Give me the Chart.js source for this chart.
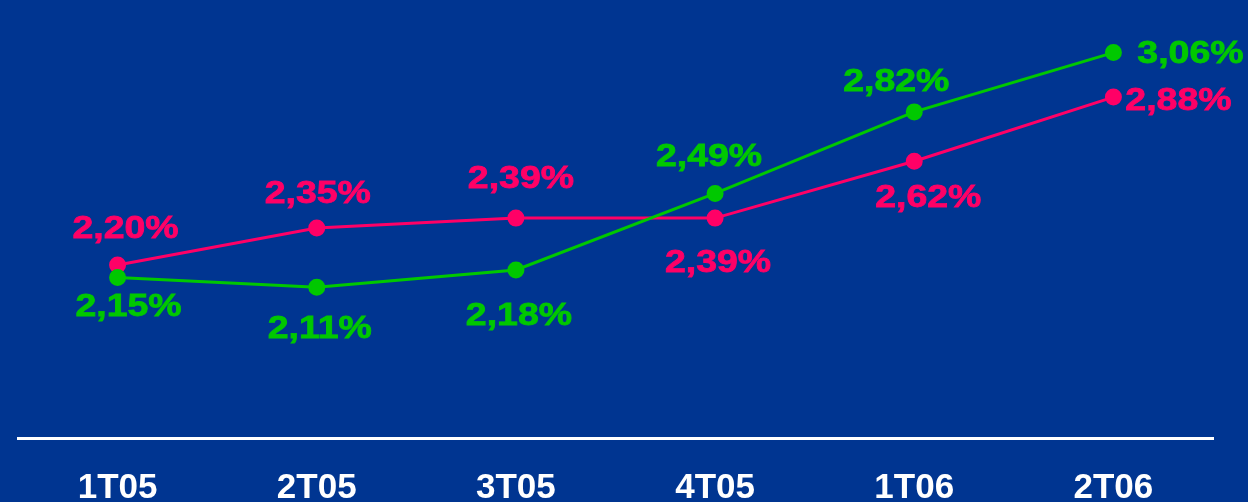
<!DOCTYPE html>
<html>
<head>
<meta charset="utf-8">
<script src="https://cdn.jsdelivr.net/npm/chart.js@4"></script>
<style>
  html, body { margin: 0; padding: 0; background: #003591; }
  #wrap { width: 1248px; height: 502px; }
</style>
</head>
<body>
<div id="wrap"><canvas id="myChart" width="1248" height="502"></canvas></div>
<script>
// chart data
const quarters = ['1T05', '2T05', '3T05', '4T05', '1T06', '2T06'];
const pinkValues = [2.20, 2.35, 2.39, 2.39, 2.62, 2.88];
const greenValues = [2.15, 2.11, 2.18, 2.49, 2.82, 3.06];

// where each value label sits relative to its point (dx, dy)
const pinkLabelOffsets = [[8, -36], [1, -34], [5, -39], [3, 45], [14, 37], [65, 4]];
const greenLabelOffsets = [[11, 30], [3, 42], [3, 46], [-6, -36], [-18, -30], [77, 2]];

const PINK = '#FF0066';
const GREEN = '#00C800';

function fmt(v) {
    return v.toFixed(2).replace('.', ',') + '%';
}

// draws the value labels next to the points
const valueLabels = {
    id: 'valueLabels',
    afterDatasetsDraw(chart) {
        const c = chart.ctx;
        chart.data.datasets.forEach((ds, i) => {
            const meta = chart.getDatasetMeta(i);
            meta.data.forEach((pt, j) => {
                const off = ds.labelOffsets[j];
                c.save();
                c.translate(pt.x + off[0], pt.y + off[1]);
                c.scale(1.17, 1);
                c.font = 'bold 32px "Liberation Sans", Arial, sans-serif';
                c.fillStyle = ds.borderColor;
                c.strokeStyle = ds.borderColor;
                c.lineWidth = 0.8;
                c.textAlign = 'center';
                c.textBaseline = 'middle';
                c.fillText(fmt(ds.data[j]), 0, 0);
                c.strokeText(fmt(ds.data[j]), 0, 0);
                c.restore();
            });
        });
    }
};

function initChart() {
    const ctx = document.getElementById('myChart');
    new Chart(ctx, {
        type: 'line',
        data: {
            labels: quarters,
            datasets: [
                {
                    data: greenValues,
                    borderColor: GREEN,
                    backgroundColor: GREEN,
                    borderWidth: 3,
                    pointRadius: 7,
                    pointHoverRadius: 7,
                    labelOffsets: greenLabelOffsets
                },
                {
                    data: pinkValues,
                    borderColor: PINK,
                    backgroundColor: PINK,
                    borderWidth: 3,
                    pointRadius: 7,
                    pointHoverRadius: 7,
                    labelOffsets: pinkLabelOffsets
                }
            ]
        },
        options: {
            responsive: false,
            animation: false,
            layout: { padding: { left: 18, right: 35, top: 18, bottom: -37 } },
            scales: {
                x: {
                    offset: true,
                    grid: { display: false, drawTicks: false },
                    border: { display: true, color: '#FFFFFF', width: 3 },
                    ticks: {
                        color: '#FFFFFF',
                        padding: 33,
                        font: { family: '"Liberation Sans", Arial, sans-serif', size: 35, weight: 'bold', lineHeight: 1 }
                    }
                },
                y: {
                    display: false,
                    min: 1.5,
                    max: 3.2
                }
            },
            plugins: {
                legend: { display: false },
                tooltip: { enabled: false }
            }
        },
        plugins: [valueLabels]
    });
}

document.addEventListener('DOMContentLoaded', initChart);
</script>
</body>
</html>
